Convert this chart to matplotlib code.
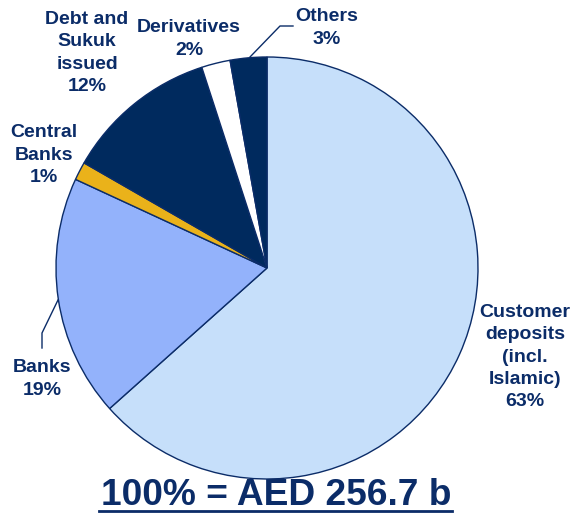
import matplotlib
matplotlib.use("Agg")
import matplotlib.pyplot as plt
from matplotlib.lines import Line2D

plt.rcParams['font.family'] = ['Liberation Sans', 'DejaVu Sans']

labels = ["Customer\ndeposits\n(incl.\nIslamic)", "Banks", "Central\nBanks",
          "Debt and\nSukuk\nissued", "Derivatives", "Others"]
shares = [63.4, 18.5, 1.4, 11.7, 2.2, 2.8]
shown_pct = [63, 19, 1, 12, 2, 3]
colors = ["#C6DFFA", "#93B2FB", "#EAB21A", "#002A5E", "#FFFFFF", "#002A5E"]
total_text = "100% = AED 256.7 b"

navy = "#0B2C68"
W, H = 571, 513

fig = plt.figure(figsize=(W / 100, H / 100), dpi=100)
ax = fig.add_axes([0, 0, 1, 1])

ax.pie(shares, colors=colors, startangle=90, counterclock=False,
       center=(267, H - 268), radius=211, frame=True,
       wedgeprops=dict(edgecolor=navy, linewidth=1.0))
ax.set_xlim(0, W)
ax.set_ylim(0, H)
ax.axis("off")

# label positions in pixels (x, y from top)
pos = [(525, 357), (42, 379), (44, 155), (87, 53), (189, 39), (327, 28)]
for lab, p, (x, y) in zip(labels, shown_pct, pos):
    ax.text(x, H - y, f"{lab}\n{p}%", ha="center", va="center",
            fontsize=14, fontweight="bold", color=navy, linespacing=1.42)

# leader lines
ax.add_line(Line2D([250, 280, 293], [H - 57, H - 26, H - 26], color=navy, lw=1))
ax.add_line(Line2D([58, 42, 42], [H - 300, H - 333, H - 348], color=navy, lw=1))

# total, underlined
ax.text(276, H - 505, total_text, ha="center", va="baseline",
        fontsize=26.7, fontweight="bold", color=navy)
ax.add_line(Line2D([99, 452], [H - 511, H - 511], color=navy, lw=2))

fig.savefig("out.png", dpi=100)
